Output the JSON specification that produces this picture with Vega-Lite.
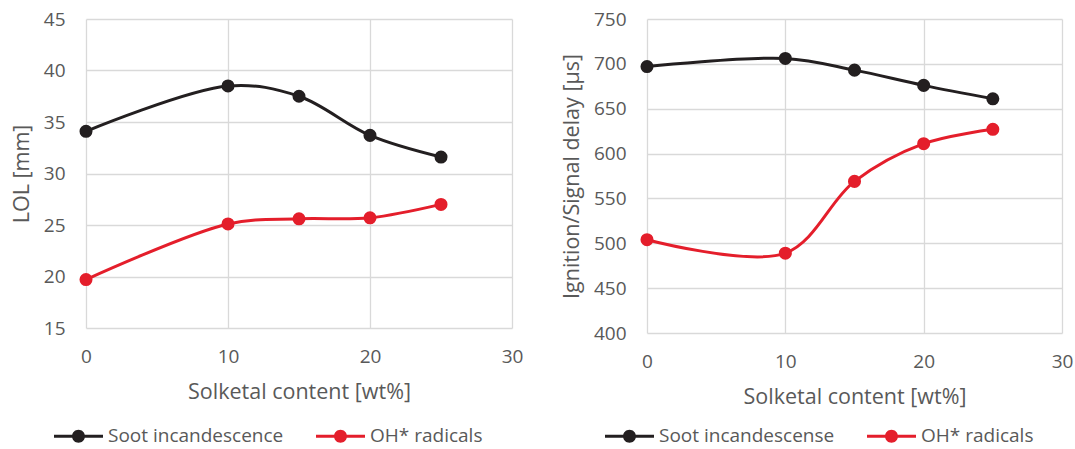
{
  "$schema": "https://vega.github.io/schema/vega-lite/v6.json",
  "background": "white",
  "padding": {"left": 11, "top": 10, "right": 5, "bottom": 5},
  "spacing": 38,
  "config": {
    "font": "Open Sans",
    "view": {"stroke": null},
    "axis": {
      "labelColor": "#595959",
      "titleColor": "#595959",
      "titleFontWeight": "normal",
      "labelFontSize": 19,
      "titleFontSize": 21.5,
      "gridColor": "#d9d9d9",
      "gridWidth": 1.3,
      "domain": false,
      "ticks": false,
      "labelFlush": false
    },
    "axisX": {"titlePadding": 15, "labelPadding": 19, "labelFlush": false},
    "axisY": {"titlePadding": 10, "labelPadding": 21},
    "legend": {
      "orient": "none",
      "direction": "horizontal",
      "title": null,
      "padding": 0,
      "symbolType": "M-1,-0.061 H1 V0.061 H-1 Z M-0.265,0 A0.265,0.265 0 1,1 0.265,0 A0.265,0.265 0 1,1 -0.265,0 Z",
      "symbolSize": 2401,
      "symbolStrokeWidth": 0,
      "labelFontSize": 19,
      "labelColor": "#595959",
      "labelOffset": 5,
      "columnPadding": 32,
      "labelLimit": 400
    }
  },
  "datasets": {
    "lol": [
      {"wt": 0, "series": "Soot incandescence", "value": 34.1},
      {"wt": 10, "series": "Soot incandescence", "value": 38.5},
      {"wt": 15, "series": "Soot incandescence", "value": 37.5},
      {"wt": 20, "series": "Soot incandescence", "value": 33.7},
      {"wt": 25, "series": "Soot incandescence", "value": 31.6},
      {"wt": 0, "series": "OH* radicals", "value": 19.7},
      {"wt": 10, "series": "OH* radicals", "value": 25.1},
      {"wt": 15, "series": "OH* radicals", "value": 25.6},
      {"wt": 20, "series": "OH* radicals", "value": 25.7},
      {"wt": 25, "series": "OH* radicals", "value": 27.0}
    ],
    "delay": [
      {"wt": 0, "series": "Soot incandescense", "value": 697},
      {"wt": 10, "series": "Soot incandescense", "value": 706},
      {"wt": 15, "series": "Soot incandescense", "value": 693},
      {"wt": 20, "series": "Soot incandescense", "value": 676},
      {"wt": 25, "series": "Soot incandescense", "value": 661},
      {"wt": 0, "series": "OH* radicals", "value": 504},
      {"wt": 10, "series": "OH* radicals", "value": 489},
      {"wt": 15, "series": "OH* radicals", "value": 569},
      {"wt": 20, "series": "OH* radicals", "value": 611},
      {"wt": 25, "series": "OH* radicals", "value": 627}
    ]
  },
  "resolve": {"scale": {"color": "independent"}, "legend": {"color": "independent"}},
  "hconcat": [
    {
      "width": 426,
      "height": 309,
      "data": {"name": "lol"},
      "encoding": {
        "x": {"field": "wt", "type": "quantitative", "scale": {"domain": [0, 30]}, "axis": {"values": [0, 10, 20, 30], "title": "Solketal content [wt%]"}},
        "y": {"field": "value", "type": "quantitative", "scale": {"domain": [15, 45]}, "axis": {"values": [15, 20, 25, 30, 35, 40, 45], "title": "LOL [mm]"}},
        "color": {
          "field": "series", "type": "nominal",
          "scale": {"domain": ["Soot incandescence", "OH* radicals"], "range": ["#231f20", "#e41e2b"]},
          "legend": {"legendX": -32, "legendY": 392.5}
        }
      },
      "layer": [
        {"mark": {"type": "line", "interpolate": "catmull-rom", "strokeWidth": 3}},
        {"mark": {"type": "point", "filled": true, "size": 170, "opacity": 1}}
      ]
    },
    {
      "width": 415,
      "height": 314,
      "data": {"name": "delay"},
      "encoding": {
        "x": {"field": "wt", "type": "quantitative", "scale": {"domain": [0, 30]}, "axis": {"values": [0, 10, 20, 30], "title": "Solketal content [wt%]"}},
        "y": {"field": "value", "type": "quantitative", "scale": {"domain": [400, 750]}, "axis": {"values": [400, 450, 500, 550, 600, 650, 700, 750], "title": "Ignition/Signal delay [µs]"}},
        "color": {
          "field": "series", "type": "nominal",
          "scale": {"domain": ["Soot incandescense", "OH* radicals"], "range": ["#231f20", "#e41e2b"]},
          "legend": {"legendX": -42, "legendY": 392.5}
        }
      },
      "layer": [
        {"mark": {"type": "line", "interpolate": "catmull-rom", "strokeWidth": 3}},
        {"mark": {"type": "point", "filled": true, "size": 170, "opacity": 1}}
      ]
    }
  ]
}
